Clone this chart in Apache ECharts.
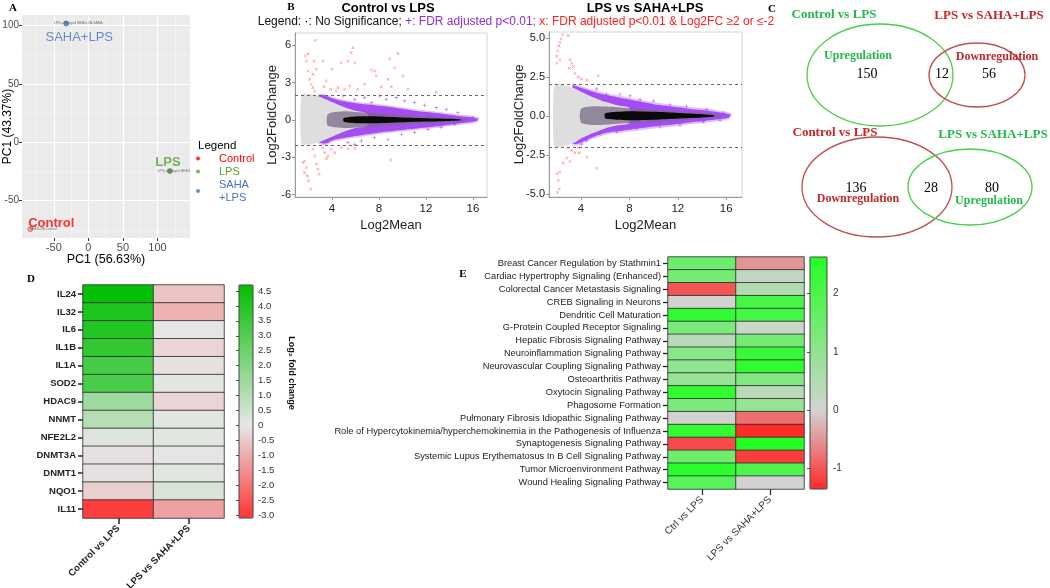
<!DOCTYPE html>
<html><head><meta charset="utf-8">
<script src="https://cdn.jsdelivr.net/npm/echarts@6/dist/echarts.min.js"></script>
<style>html,body{margin:0;padding:0;background:#fff}#c{width:1050px;height:588px}</style>
</head><body><div id="c"></div>
<script>
// ---------------- Panel A: PCA ----------------
const pcaGroups = ['Control', 'LPS', 'SAHA+LPS'];
const pcaLegendNames = ['Control', 'LPS', 'SAHA\n+LPS'];
const pcaSampleNames = ['BEAS-2B-Control', 'LPS-ctMerged BEAS', 'LPS-ctMerged BEAS-2B-SAHA'];
const pcaPC1 = [-84, 118, -32];
const pcaPC2 = [-74.4, -24.7, 101.7];
const pcaXTicks = [-50, 0, 50, 100];
const pcaYTicks = [-50, 0, 50, 100];
const pcaXMinor = [-75, -25, 25, 75, 125];
const pcaYMinor = [-75, -25, 25, 75];

// ---------------- Panel B: MA plots ----------------
const maFoldCutoff = [2, -2];
const maXTicks = [4, 8, 12, 16];
const maLeftYTicks = [-6, -3, 0, 3, 6];
const maRightYTicks = [-5, -2.5, 0, 2.5, 5];
// Control vs LPS : cloud envelopes
const maL_fdrBandX = [2.8, 3.2, 3.6, 4, 5, 6, 7, 8, 9, 10, 11, 12, 13, 14, 15, 16, 16.4];
const maL_fdrBandUp = [1.9, 2.0, 1.9, 1.75, 1.5, 1.35, 1.25, 1.15, 1.05, 0.9, 0.75, 0.65, 0.55, 0.42, 0.3, 0.2, 0.05];
const maL_fdrBandLo = [-1.7, -1.9, -1.85, -1.65, -1.45, -1.3, -1.15, -1.0, -0.9, -0.8, -0.7, -0.6, -0.5, -0.38, -0.27, -0.15, -0.05];
const maL_nsFanX = [1.4, 2, 2.5, 3, 3.5, 4, 4.5, 5, 6, 7];
const maL_nsFanUp = [2.0, 2.1, 2.0, 1.85, 1.65, 1.45, 1.25, 1.05, 0.75, 0.5];
const maL_nsFanLo = [-1.9, -2.0, -1.9, -1.75, -1.55, -1.35, -1.15, -0.95, -0.65, -0.45];
const maL_midX = [3.6, 4, 5, 6, 8, 10, 12, 14, 15.5];
const maL_midUp = [0.4, 0.6, 0.7, 0.65, 0.52, 0.4, 0.3, 0.18, 0.07];
const maL_midLo = [-0.4, -0.55, -0.65, -0.6, -0.48, -0.36, -0.27, -0.16, -0.06];
const maL_coreX = [5, 6, 8, 10, 12, 14, 15];
const maL_coreUp = [0.15, 0.28, 0.28, 0.2, 0.14, 0.09, 0.03];
const maL_coreLo = [-0.15, -0.26, -0.26, -0.19, -0.13, -0.08, -0.03];
const maL_fdrX = [5.93, 6.78, 7.35, 8.06, 8.62, 9.48, 10.18, 11.04, 11.89, 12.88, 13.73, 14.72, 16.0, 16.4, 4.94, 5.36, 6.5, 7.63, 8.77, 9.9, 11.04, 12.17, 13.3, 14.44, 5.93];
const maL_fdrY = [1.66, 1.8, 1.39, 1.93, 1.66, 1.8, 1.53, 1.39, 1.18, 0.99, 0.86, 0.59, 0.19, 0.1, 1.93, -1.82, -1.69, -1.42, -1.55, -1.15, -1.02, -0.75, -0.62, -0.35, -1.96];
const maL_sigX = [2.58, 1.96, 1.73, 1.82, 1.96, 2.1, 2.24, 2.38, 2.52, 2.38, 2.67, 2.47, 3.23, 3.52, 3.32, 3.89, 4.37, 4.0, 4.8, 5.36, 5.79, 5.64, 5.93, 7.35, 7.63, 7.77, 8.91, 9.62, 9.33, 10.04, 10.47, 12.88, 8.77, 6.78, 6.2, 8.2, 9.05, 4.5, 5.08, 5.5,
  3.23, 3.38, 3.52, 1.67, 1.82, 1.9, 2.0, 2.18, 1.67, 1.53, 2.38, 2.52, 2.67, 2.81, 2.89, 3.94, 4.23, 4.8, 5.36, 5.93, 8.99, 3.66];
const maL_sigY = [6.4, 5.3, 5.15, 4.75, 3.94, 3.27, 2.87, 2.6, 2.33, 3.67, 4.08, 4.75, 4.75, 3.14, 2.68, 2.47, 2.33, 4.08, 4.6, 4.75, 5.82, 5.42, 4.6, 4.02, 3.94, 3.54, 4.93, 5.36, 4.2, 3.54, 2.47, 2.25, 3.27, 2.87, 2.47, 2.68, 2.68, 2.6, 2.47, 2.73,
  -2.23, -2.63, -3.11, -3.3, -3.83, -4.5, -4.9, -5.58, -4.24, -3.43, -2.36, -2.9, -3.56, -3.97, -4.37, -2.36, -2.63, -2.23, -2.3, -2.3, -3.22, -2.9];
// LPS vs SAHA+LPS
const maR_fdrBandX = [3.3, 3.6, 4, 5, 6, 7, 8, 9, 10, 11, 12, 13, 14, 15, 16, 16.3];
const maR_fdrBandUp = [1.95, 1.9, 1.8, 1.55, 1.35, 1.2, 1.05, 0.9, 0.75, 0.65, 0.55, 0.45, 0.38, 0.28, 0.15, 0.05];
const maR_fdrBandLo = [-1.75, -1.8, -1.7, -1.35, -1.1, -0.98, -0.88, -0.78, -0.68, -0.6, -0.52, -0.42, -0.35, -0.25, -0.15, -0.05];
const maR_nsFanX = [1.8, 2.5, 3, 3.5, 4, 5, 6, 7, 8];
const maR_nsFanUp = [2.0, 2.0, 1.9, 1.75, 1.55, 1.2, 0.9, 0.68, 0.5];
const maR_nsFanLo = [-2.0, -1.95, -1.85, -1.7, -1.45, -1.1, -0.8, -0.6, -0.45];
const maR_midX = [4, 5, 6, 7, 8, 10, 12, 14, 15.5];
const maR_midUp = [0.45, 0.62, 0.6, 0.55, 0.48, 0.4, 0.3, 0.18, 0.07];
const maR_midLo = [-0.42, -0.58, -0.56, -0.5, -0.46, -0.38, -0.28, -0.16, -0.06];
const maR_coreX = [6, 7, 8, 10, 12, 14, 15];
const maR_coreUp = [0.15, 0.26, 0.3, 0.26, 0.19, 0.11, 0.04];
const maR_coreLo = [-0.15, -0.25, -0.28, -0.25, -0.17, -0.1, -0.04];
const maR_fdrX = [5.29, 6.12, 7.22, 8.05, 8.88, 9.98, 11.36, 12.73, 14.39, 15.76, 16.31, 4.47, 5.57, 6.95, 8.6, 10.53, 12.18, 14.11, 15.49, 4.06];
const maR_fdrY = [1.73, 1.39, 1.39, 1.28, 1.06, 0.95, 0.73, 0.62, 0.4, 0.18, 0.07, -1.59, -1.15, -1.04, -0.82, -0.71, -0.6, -0.38, -0.27, -1.81];
const maR_sigX = [2.48, 2.37, 2.26, 2.18, 2.07, 1.99, 2.26, 2.02, 2.95, 3.09, 3.23, 3.04, 3.5, 3.78, 4.06, 4.47, 5.43, 3.37,
  2.95, 3.23, 3.5, 3.78, 4.47, 5.29, 2.82, 2.54, 2.04, 2.13, 2.21, 2.07, 2.26, 3.09, 3.86];
const maR_sigY = [5.22, 4.93, 4.71, 4.49, 4.16, 3.83, 3.6, 3.38, 5.15, 3.6, 3.38, 3.05, 2.72, 2.5, 2.39, 2.28, 2.57, 3.16,
  -2.04, -2.21, -2.37, -2.04, -2.65, -3.36, -2.7, -3.03, -3.7, -4.14, -4.69, -4.91, -3.58, -2.92, -2.37];

// ---------------- Panel C: Venn counts ----------------
const vennTopCounts = [150, 12, 56];      // Control vs LPS up only, shared, LPS vs SAHA+LPS down only
const vennBottomCounts = [136, 28, 80];   // Control vs LPS down only, shared, LPS vs SAHA+LPS up only

// ---------------- Panel D: gene heatmap ----------------
const dGenes = ['IL24', 'IL32', 'IL6', 'IL1B', 'IL1A', 'SOD2', 'HDAC9', 'NNMT', 'NFE2L2', 'DNMT3A', 'DNMT1', 'NQO1', 'IL11'];
const dComparisons = ['Control vs LPS', 'LPS vs SAHA+LPS'];
const dCtrlVsLps = [4.6, 4.1, 4.0, 3.7, 3.3, 3.2, 1.5, 1.0, 0.2, -0.1, -0.1, -0.4, -2.9];
const dLpsVsSaha = [-0.6, -0.9, 0.0, -0.3, -0.1, 0.1, -0.3, 0.1, 0.1, 0.0, 0.1, 0.3, -1.2];
const dColorTicks = [4.5, 4.0, 3.5, 3.0, 2.5, 2.0, 1.5, 1.0, 0.5, 0, -0.5, -1.0, -1.5, -2.0, -2.5, -3.0];

// ---------------- Panel E: pathway heatmap ----------------
const ePathways = ['Breast Cancer Regulation by Stathmin1', 'Cardiac Hypertrophy Signaling (Enhanced)', 'Colorectal Cancer Metastasis Signaling',
  'CREB Signaling in Neurons', 'Dendritic Cell Maturation', 'G-Protein Coupled Receptor Signaling', 'Hepatic Fibrosis Signaling Pathway',
  'Neuroinflammation Signaling Pathway', 'Neurovascular Coupling Signaling Pathway', 'Osteoarthritis Pathway', 'Oxytocin Signaling Pathway',
  'Phagosome Formation', 'Pulmonary Fibrosis Idiopathic Signaling Pathway',
  'Role of Hypercytokinemia/hyperchemokinemia in the Pathogenesis of Influenza', 'Synaptogenesis Signaling Pathway',
  'Systemic Lupus Erythematosus In B Cell Signaling Pathway', 'Tumor Microenvironment Pathway', 'Wound Healing Signaling Pathway'];
const eComparisons = ['Ctrl vs LPS', 'LPS vs SAHA+LPS'];
const eCtrlVsLps = [1.5, 1.4, -1.0, 0.0, 2.4, 1.3, 0.4, 1.1, 1.0, 0.9, 2.4, 1.3, 0.0, 2.4, -1.1, 1.5, 2.5, 1.8];
const eLpsVsSaha = [-0.5, 0.25, 0.5, 2.1, 2.1, 0.15, 1.4, 2.3, 2.4, 1.2, 0.4, 0.9, -0.8, -1.5, 2.6, -1.2, 2.0, 0.0];
const eColorTicks = [2, 1, 0, -1];

// ================= build chart =================
const SANS = 'Liberation Sans, Arial, sans-serif';
const SERIF = 'Liberation Serif, Times New Roman, serif';
const chart = echarts.init(document.getElementById('c'));

function ramp(min, max, neg, mid, pos, n) {
  const hex = c => [1, 3, 5].map(k => parseInt(c.slice(k, k + 2), 16));
  const a = hex(neg), b = hex(mid), c = hex(pos);
  const out = [];
  for (let i = 0; i < n; i++) {
    const v = min + (max - min) * i / (n - 1);
    const to = v < 0 ? a : c;
    const t = v < 0 ? v / min : v / max;
    out.push('rgb(' + b.map((f, k) => Math.round(f + (to[k] - f) * t)).join(',') + ')');
  }
  return out;
}

function band(gi, xs, up, lo, color, opacity, z, widen) {
  const w = widen || 0;
  return {
    type: 'custom', xAxisIndex: gi, yAxisIndex: gi, z: z, silent: true,
    data: xs.map((x, k) => [x, up[k], lo[k]]),
    encode: { x: 0, y: [1, 2] },
    renderItem: function (params, api) {
      if (params.dataIndex !== 0) return null;
      const top = xs.map((x, k) => api.coord([x, up[k] + w]));
      const bot = xs.map((x, k) => api.coord([x, lo[k] - w])).reverse();
      return { type: 'polygon', shape: { points: top.concat(bot), smooth: 0.25 }, style: { fill: color, opacity: opacity } };
    }
  };
}

const plusPath = 'path://M4,0H6V4H10V6H6V10H4V6H0V4H4Z';
const xPath = 'path://M0,1L1,0L5,4L9,0L10,1L6,5L10,9L9,10L5,6L1,10L0,9L4,5Z';

function maSeries(gi, P) {
  return [
    band(gi, P.fbX, P.fbU, P.fbL, '#c58cff', 0.55, 1, 0.12),
    band(gi, P.fbX, P.fbU, P.fbL, '#a040f2', 0.9, 1),
    band(gi, P.nsX, P.nsU, P.nsL, '#dedede', 1, 2),
    band(gi, P.mX, P.mU, P.mL, '#7a6a88', 0.75, 3),
    band(gi, P.cX, P.cU, P.cL, '#0a0a0a', 1, 4),
    { type: 'scatter', xAxisIndex: gi, yAxisIndex: gi, z: 5, silent: true, symbol: plusPath, symbolSize: 3.5,
      itemStyle: { color: '#a040f2', opacity: 0.7 }, data: P.fX.map((x, k) => [x, P.fY[k]]) },
    { type: 'scatter', xAxisIndex: gi, yAxisIndex: gi, z: 6, silent: true, symbol: xPath, symbolSize: 3,
      itemStyle: { color: '#ff3030', opacity: 0.7 }, data: P.sX.map((x, k) => [x, P.sY[k]]),
      markLine: { silent: true, symbol: 'none', label: { show: false },
        lineStyle: { type: [3, 3], color: '#666', width: 1 },
        data: maFoldCutoff.map(v => ({ yAxis: v })) } }
  ];
}

const series = [];
// PCA panel grid lines (major + minor) carried by silent series
series.push({ type: 'scatter', xAxisIndex: 0, yAxisIndex: 0, data: [], silent: true, z: 1,
  markLine: { silent: true, symbol: 'none', label: { show: false }, lineStyle: { type: 'solid', color: '#f8f8f8', width: 0.6 },
    data: pcaXMinor.map(v => ({ xAxis: v })).concat(pcaYMinor.map(v => ({ yAxis: v }))) } });
series.push({ type: 'scatter', xAxisIndex: 0, yAxisIndex: 0, data: [], silent: true, z: 1,
  markLine: { silent: true, symbol: 'none', label: { show: false }, lineStyle: { type: 'solid', color: '#ffffff', width: 1.2 },
    data: pcaXTicks.map(v => ({ xAxis: v })).concat(pcaYTicks.map(v => ({ yAxis: v }))) } });
const pcaPointColors = ['#f4a0a0', '#3d9a3d', '#5577cc'];
const pcaPointBorders = ['#e01010', '#2a6a2a', '#2a4a9a'];
const pcaTextColors = ['#ff0000', '#5aa02c', '#4472c4'];
const sampleOffsets = [[13, 0], [4, 0], [12, 0]];
pcaGroups.forEach((g, i) => {
  series.push({ name: pcaLegendNames[i], type: 'scatter', xAxisIndex: 0, yAxisIndex: 0, z: 10, symbolSize: 5,
    itemStyle: { color: pcaPointColors[i], borderColor: pcaPointBorders[i], borderWidth: 0.6 },
    label: { show: true, position: 'inside', offset: sampleOffsets[i], formatter: pcaSampleNames[i], fontSize: 3.5, color: '#555' },
    data: [[pcaPC1[i], pcaPC2[i]]] });
});
const groupLabelStyle = [
  { offset: [21, -6], fontWeight: 'bold' },
  { offset: [-2, -9], fontWeight: 'bold' },
  { offset: [13, 14], fontWeight: 'normal' }
];
series.push({ type: 'scatter', xAxisIndex: 0, yAxisIndex: 0, z: 11, symbolSize: 0.1, silent: true,
  data: pcaGroups.map((g, i) => ({ value: [pcaPC1[i], pcaPC2[i]],
    label: { show: true, position: 'inside', offset: groupLabelStyle[i].offset, formatter: g, color: pcaTextColors[i],
      fontSize: 13, fontWeight: groupLabelStyle[i].fontWeight } })) });

maSeries(1, { fbX: maL_fdrBandX, fbU: maL_fdrBandUp, fbL: maL_fdrBandLo, nsX: maL_nsFanX, nsU: maL_nsFanUp, nsL: maL_nsFanLo,
  mX: maL_midX, mU: maL_midUp, mL: maL_midLo, cX: maL_coreX, cU: maL_coreUp, cL: maL_coreLo,
  fX: maL_fdrX, fY: maL_fdrY, sX: maL_sigX, sY: maL_sigY }).forEach(s => series.push(s));
maSeries(2, { fbX: maR_fdrBandX, fbU: maR_fdrBandUp, fbL: maR_fdrBandLo, nsX: maR_nsFanX, nsU: maR_nsFanUp, nsL: maR_nsFanLo,
  mX: maR_midX, mU: maR_midUp, mL: maR_midLo, cX: maR_coreX, cU: maR_coreUp, cL: maR_coreLo,
  fX: maR_fdrX, fY: maR_fdrY, sX: maR_sigX, sY: maR_sigY }).forEach(s => series.push(s));

const idxD = series.length;
series.push({ type: 'heatmap', xAxisIndex: 3, yAxisIndex: 3, silent: true,
  itemStyle: { borderColor: '#2b2b2b', borderWidth: 0.8 }, emphasis: { disabled: true },
  data: dGenes.flatMap((g, r) => [[0, r, dCtrlVsLps[r]], [1, r, dLpsVsSaha[r]]]) });
const idxE = series.length;
series.push({ type: 'heatmap', xAxisIndex: 5, yAxisIndex: 5, silent: true,
  itemStyle: { borderColor: '#2b2b2b', borderWidth: 0.8 }, emphasis: { disabled: true },
  data: ePathways.flatMap((p, r) => [[0, r, eCtrlVsLps[r]], [1, r, eLpsVsSaha[r]]]) });

const tickFmt = v => (v === 0 ? '0' : v.toFixed(1));

function maX(gi, min, max) {
  return { gridIndex: gi, type: 'value', min: min, max: max,
    axisLine: { show: true, onZero: false, lineStyle: { color: '#999' } },
    axisTick: { show: true, customValues: maXTicks, length: 3, lineStyle: { color: '#999' } },
    axisLabel: { customValues: maXTicks, fontSize: 11.5, color: '#222', margin: 6 },
    splitLine: { show: false },
    name: 'Log2Mean', nameLocation: 'middle', nameGap: 22, nameMoveOverlap: false, nameTextStyle: { fontSize: 13, color: '#222' } };
}
function maY(gi, min, max, ticks, fmt, gap) {
  return { gridIndex: gi, type: 'value', min: min, max: max,
    axisLine: { show: true, onZero: false, lineStyle: { color: '#999' } },
    axisTick: { show: true, customValues: ticks, length: 3, lineStyle: { color: '#999' } },
    axisLabel: { customValues: ticks, fontSize: 11, color: '#222', margin: 4, formatter: fmt },
    splitLine: { show: false },
    name: 'Log2FoldChange', nameLocation: 'middle', nameGap: gap, nameMoveOverlap: false, nameTextStyle: { fontSize: 13, color: '#222' } };
}

const xAxis = [
  { gridIndex: 0, type: 'value', min: -96, max: 147, axisLine: { show: false, onZero: false },
    axisTick: { show: true, customValues: pcaXTicks, length: 3, lineStyle: { color: '#333' } },
    axisLabel: { customValues: pcaXTicks, fontSize: 11, color: '#4d4d4d', margin: 4 },
    splitLine: { show: false },
    name: 'PC1 (56.63%)', nameLocation: 'middle', nameGap: 15, nameMoveOverlap: false, nameTextStyle: { fontSize: 12.5, color: '#000' } },
  maX(1, 0.85, 17.2),
  maX(2, 1.36, 17.3),
  { gridIndex: 3, type: 'category', data: dComparisons, axisLine: { show: false },
    axisTick: { show: true, alignWithLabel: true, length: 6, lineStyle: { color: '#222', width: 1.5 } },
    axisLabel: { rotate: 45, fontSize: 9.5, fontWeight: 'bold', color: '#222', margin: 9 } },
  { gridIndex: 4, type: 'value', show: false },
  { gridIndex: 5, type: 'category', data: eComparisons, axisLine: { show: false },
    axisTick: { show: true, alignWithLabel: true, length: 6, lineStyle: { color: '#333', width: 1.3 } },
    axisLabel: { rotate: 45, fontSize: 10, color: '#333', margin: 9 } },
  { gridIndex: 6, type: 'value', show: false }
];
const yAxis = [
  { gridIndex: 0, type: 'value', min: -82, max: 109, axisLine: { show: false, onZero: false },
    axisTick: { show: true, customValues: pcaYTicks, length: 3, lineStyle: { color: '#333' } },
    axisLabel: { customValues: pcaYTicks, fontSize: 10, color: '#4d4d4d', margin: 3 },
    splitLine: { show: false },
    name: 'PC1 (43.37%)', nameLocation: 'middle', nameGap: 8, nameMoveOverlap: false, nameTextStyle: { fontSize: 12, color: '#000' } },
  maY(1, -6.2, 7.0, maLeftYTicks, v => String(v), 16),
  maY(2, -5.2, 5.38, maRightYTicks, v => v.toFixed(1), 23),
  { gridIndex: 3, type: 'category', data: dGenes, inverse: true, axisLine: { show: false },
    axisTick: { show: true, alignWithLabel: true, length: 5, lineStyle: { color: '#222', width: 1.5 } },
    axisLabel: { fontSize: 9.5, fontWeight: 'bold', color: '#222', margin: 7 } },
  { gridIndex: 4, type: 'value', min: -3.1, max: 4.7, position: 'right', axisLine: { show: false },
    axisTick: { show: true, inside: true, customValues: dColorTicks, length: 3, lineStyle: { color: '#555' } },
    axisLabel: { customValues: dColorTicks, formatter: tickFmt, fontSize: 9.5, color: '#333', margin: 5 },
    splitLine: { show: false } },
  { gridIndex: 5, type: 'category', data: ePathways, inverse: true, axisLine: { show: false },
    axisTick: { show: true, alignWithLabel: true, length: 5, lineStyle: { color: '#222', width: 1.3 } },
    axisLabel: { fontSize: 9.3, color: '#222', margin: 7 } },
  { gridIndex: 6, type: 'value', min: -1.35, max: 2.63, position: 'right', axisLine: { show: false },
    axisTick: { show: true, inside: true, customValues: eColorTicks, length: 3, lineStyle: { color: '#555' } },
    axisLabel: { customValues: eColorTicks, fontSize: 10, color: '#333', margin: 6 },
    splitLine: { show: false } }
];

function T(x, y, text, st, extra) {
  return Object.assign({ type: 'text', x: x, y: y, silent: true, z: 100,
    style: Object.assign({ text: text, align: 'center', verticalAlign: 'middle', textAlign: 'center', textVerticalAlign: 'middle',
      fill: '#000', fontSize: 12, fontFamily: SANS }, st) }, extra || {});
}
const G = '#23b84a', R = '#c4262b';
const graphic = [
  T(13, 8, 'A', { fontFamily: SERIF, fontWeight: 'bold', fontSize: 11 }),
  T(291, 7, 'B', { fontFamily: SERIF, fontWeight: 'bold', fontSize: 11 }),
  T(772, 9, 'C', { fontFamily: SERIF, fontWeight: 'bold', fontSize: 11 }),
  T(31, 279, 'D', { fontFamily: SERIF, fontWeight: 'bold', fontSize: 11 }),
  T(463, 274, 'E', { fontFamily: SERIF, fontWeight: 'bold', fontSize: 11 }),
  T(198, 146, 'Legend', { align: 'left', textAlign: 'left', fontSize: 11.5, fill: '#000' }),
  T(388, 8, 'Control vs LPS', { fontWeight: 'bold', fontSize: 13 }),
  T(645, 8, 'LPS vs SAHA+LPS', { fontWeight: 'bold', fontSize: 13 }),
  T(516, 22, '{k|Legend: ·: No Significance; }{p|+: FDR adjusted p<0.01; }{r|x: FDR adjusted p<0.01 & Log2FC ≥2 or ≤-2}', {
    rich: { k: { fontSize: 12, fill: '#111', color: '#111', fontFamily: SANS },
      p: { fontSize: 12, fill: '#8a2be2', color: '#8a2be2', fontFamily: SANS },
      r: { fontSize: 12, fill: '#ff2020', color: '#ff2020', fontFamily: SANS } } }),
  // Venn diagrams
  { type: 'ellipse', silent: true, shape: { cx: 880, cy: 75, rx: 73, ry: 51 }, style: { fill: 'none', stroke: '#44d044', lineWidth: 1.3 } },
  { type: 'ellipse', silent: true, shape: { cx: 977, cy: 75, rx: 48, ry: 32 }, style: { fill: 'none', stroke: '#c05050', lineWidth: 1.3 } },
  { type: 'ellipse', silent: true, shape: { cx: 877, cy: 187, rx: 75, ry: 50 }, style: { fill: 'none', stroke: '#c05050', lineWidth: 1.3 } },
  { type: 'ellipse', silent: true, shape: { cx: 970, cy: 187, rx: 62, ry: 38 }, style: { fill: 'none', stroke: '#44d044', lineWidth: 1.3 } },
  T(834, 15, 'Control vs LPS', { fontFamily: SERIF, fontWeight: 'bold', fontSize: 13, fill: G }),
  T(989, 16, 'LPS vs SAHA+LPS', { fontFamily: SERIF, fontWeight: 'bold', fontSize: 13, fill: R }),
  T(858, 56, 'Upregulation', { fontFamily: SERIF, fontWeight: 'bold', fontSize: 12, fill: G }),
  T(997, 57, 'Downregulation', { fontFamily: SERIF, fontWeight: 'bold', fontSize: 12, fill: R }),
  T(867, 74, String(vennTopCounts[0]), { fontFamily: SERIF, fontSize: 14 }),
  T(942, 74, String(vennTopCounts[1]), { fontFamily: SERIF, fontSize: 14 }),
  T(989, 74, String(vennTopCounts[2]), { fontFamily: SERIF, fontSize: 14 }),
  T(835, 133, 'Control vs LPS', { fontFamily: SERIF, fontWeight: 'bold', fontSize: 13, fill: R }),
  T(993, 135, 'LPS vs SAHA+LPS', { fontFamily: SERIF, fontWeight: 'bold', fontSize: 13, fill: G }),
  T(856, 188, String(vennBottomCounts[0]), { fontFamily: SERIF, fontSize: 14 }),
  T(931, 188, String(vennBottomCounts[1]), { fontFamily: SERIF, fontSize: 14 }),
  T(992, 188, String(vennBottomCounts[2]), { fontFamily: SERIF, fontSize: 14 }),
  T(858, 199, 'Downregulation', { fontFamily: SERIF, fontWeight: 'bold', fontSize: 12, fill: R }),
  T(989, 201, 'Upregulation', { fontFamily: SERIF, fontWeight: 'bold', fontSize: 12, fill: G }),
  // colour bar title of D
  T(291, 373, 'Log₂ fold change', { fontWeight: 'bold', fontSize: 9, fill: '#111' }, { rotation: -Math.PI / 2 })
];

const NOB = { outerBoundsMode: 'none', containLabel: false };
chart.setOption({
  animation: false,
  textStyle: { fontFamily: SANS },
  grid: [
    Object.assign({ left: 22, top: 15, width: 168, height: 223, show: true, backgroundColor: '#ebebeb', borderWidth: 0 }, NOB),
    Object.assign({ left: 295, top: 33, width: 192, height: 164, show: true, borderColor: '#d4d4d4', borderWidth: 1 }, NOB),
    Object.assign({ left: 549, top: 32, width: 193, height: 165, show: true, borderColor: '#d4d4d4', borderWidth: 1 }, NOB),
    Object.assign({ left: 83, top: 285, width: 141, height: 233 }, NOB),
    Object.assign({ left: 239, top: 285, width: 14, height: 233, show: true, borderColor: '#444', borderWidth: 1, z: 10 }, NOB),
    Object.assign({ left: 668, top: 257, width: 136, height: 232 }, NOB),
    Object.assign({ left: 810, top: 257, width: 17, height: 232, show: true, borderColor: '#444', borderWidth: 1, z: 10 }, NOB)
  ],
  xAxis: xAxis,
  yAxis: yAxis,
  legend: { orient: 'vertical', left: 196, top: 152, itemWidth: 4, itemHeight: 4, itemGap: 0, icon: 'circle', selectedMode: false,
    padding: 0,
    textStyle: { fontSize: 11, lineHeight: 13, padding: [0, 0, 0, 14] },
    data: [{ name: 'Control', textStyle: { color: '#ff0000' }, itemStyle: { color: '#ff0000', borderWidth: 0 } },
      { name: 'LPS', textStyle: { color: '#5aa02c' }, itemStyle: { color: '#5aa02c', borderWidth: 0 } },
      { name: 'SAHA\n+LPS', textStyle: { color: '#4472c4' }, itemStyle: { color: '#4472c4', borderWidth: 0 } }] },
  visualMap: [
    { type: 'continuous', seriesIndex: idxD, min: -3.1, max: 4.7, left: 239, top: 285, itemWidth: 14, itemHeight: 233,
      calculable: false, hoverLink: false, padding: 0, inRange: { color: ramp(-3.1, 4.7, '#ff3333', '#e6e6e6', '#00c000', 80) } },
    { type: 'continuous', seriesIndex: idxE, min: -1.35, max: 2.63, left: 810, top: 257, itemWidth: 17, itemHeight: 232,
      calculable: false, hoverLink: false, padding: 0, inRange: { color: ramp(-1.35, 2.63, '#ff2a2a', '#d3d3d3', '#22ff22', 80) } }
  ],
  graphic: graphic,
  series: series
});
</script></body></html>
